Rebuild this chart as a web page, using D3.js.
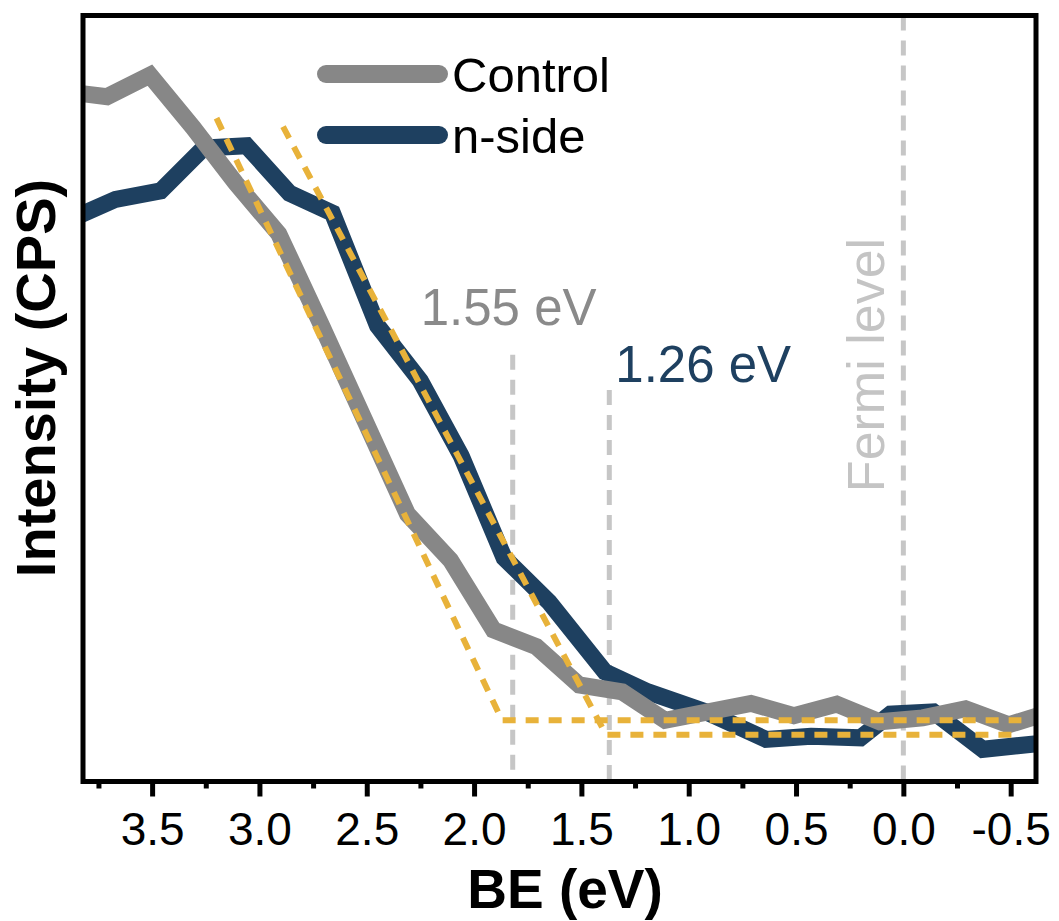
<!DOCTYPE html>
<html>
<head>
<meta charset="utf-8">
<script src="https://cdn.jsdelivr.net/npm/d3@7"></script>
<style>
  body { margin: 0; background: #ffffff; }
  svg { display: block; }
  text { font-family: "Liberation Sans", Arial, Helvetica, sans-serif; }
</style>
</head>
<body>
<svg id="chart" width="1059" height="921"></svg>
<script>
// UPS valence-band edge spectra (binding energy in eV, intensity in arbitrary CPS units)
const controlBE = [3.91, 3.71, 3.51, 3.31, 3.11, 2.91, 2.71, 2.51, 2.31, 2.11, 1.91, 1.71,
                   1.51, 1.31, 1.11, 0.91, 0.71, 0.51, 0.31, 0.11, -0.09, -0.29, -0.49, -0.69];
const controlCPS = [901, 894, 922, 854, 781, 715, 595, 472, 349, 289, 198, 176,
                    126, 117, 80, 91, 102, 86, 101, 78, 83, 95, 74, 91];

const nsideBE = [3.88, 3.67, 3.46, 3.26, 3.06, 2.86, 2.66, 2.45, 2.25, 2.06, 1.86, 1.65,
                 1.39, 1.19, 0.92, 0.64, 0.43, 0.20, 0.06, -0.14, -0.37, -0.61, -0.68];
const nsideCPS = [734, 760, 771, 827, 830, 768, 742, 595, 523, 425, 292, 234,
                  143, 117, 91, 55, 59, 57, 88, 91, 42, 49, 50];

// Linear fits of the leading edge and of the background
const fitControlBE = [3.20, 1.87, -0.55];
const fitControlCPS = [866, 80, 80];
const fitNsideBE = [2.89, 1.385, -0.51];
const fitNsideCPS = [855, 61, 61];

// Onset markers and their annotations
const onsetBE = [1.82, 1.37];
const onsetTopCPS = [557, 511];
const onsetLabels = ["1.55 eV", "1.26 eV"];
const fermiBE = 0;
const fermiLabel = "Fermi level";

// Axis ticks
const majorTicks = [3.5, 3.0, 2.5, 2.0, 1.5, 1.0, 0.5, 0.0, -0.5];
const majorTickLabels = ["3.5", "3.0", "2.5", "2.0", "1.5", "1.0", "0.5", "0.0", "-0.5"];
const minorTicks = [3.75, 3.25, 2.75, 2.25, 1.75, 1.25, 0.75, 0.25, -0.25];

const seriesNames = ["Control", "n-side"];
const seriesColors = ["#878787", "#1e4060"];
const fitColor = "#e8b23a";
const guideColor = "#c6c6c6";

const svg = d3.select("#chart");
const plot = { left: 83, top: 15.5, right: 1036, bottom: 781.5 };

const x = d3.scaleLinear().domain([3.822, -0.618]).range([plot.left, plot.right]);
const y = d3.scaleLinear().domain([0, 1000]).range([plot.bottom, plot.top]);

const zip = (a, b) => a.map((v, i) => [v, b[i]]);
const line = d3.line().x(d => x(d[0])).y(d => y(d[1]));

svg.append("defs").append("clipPath").attr("id", "plot-clip")
  .append("rect")
  .attr("x", plot.left).attr("y", plot.top)
  .attr("width", plot.right - plot.left).attr("height", plot.bottom - plot.top);

const inner = svg.append("g").attr("clip-path", "url(#plot-clip)");

// Vertical guides: onsets and Fermi level
inner.selectAll("line.onset")
  .data(onsetBE)
  .join("line")
  .attr("class", "onset")
  .attr("x1", d => x(d)).attr("x2", d => x(d))
  .attr("y1", (d, i) => y(onsetTopCPS[i])).attr("y2", y(0))
  .attr("stroke", guideColor).attr("stroke-width", 5)
  .attr("stroke-dasharray", "15,10");

inner.append("line")
  .attr("x1", x(fermiBE)).attr("x2", x(fermiBE))
  .attr("y1", y(1000)).attr("y2", y(0))
  .attr("stroke", guideColor).attr("stroke-width", 5)
  .attr("stroke-dasharray", "15,10");

// Spectra (n-side below, Control above)
const spectra = [zip(controlBE, controlCPS), zip(nsideBE, nsideCPS)];
[1, 0].forEach(i => {
  inner.append("path")
    .attr("d", line(spectra[i]))
    .attr("fill", "none")
    .attr("stroke", seriesColors[i])
    .attr("stroke-width", 17)
    .attr("stroke-linejoin", "miter")
    .attr("stroke-miterlimit", 4);
});

// Edge / background fits
[zip(fitControlBE, fitControlCPS), zip(fitNsideBE, fitNsideCPS)].forEach(pts => {
  inner.append("path")
    .attr("d", line(pts))
    .attr("fill", "none")
    .attr("stroke", fitColor)
    .attr("stroke-width", 6)
    .attr("stroke-dasharray", "13,10")
    .attr("stroke-linejoin", "miter");
});

// Onset annotations
svg.append("text")
  .attr("x", x(onsetBE[0]) - 92).attr("y", y(onsetTopCPS[0]) - 30)
  .attr("font-size", 51).attr("fill", "#8a8a8a")
  .text(onsetLabels[0]);
svg.append("text")
  .attr("x", x(onsetBE[1]) + 6).attr("y", y(onsetTopCPS[1]) - 8)
  .attr("font-size", 51).attr("fill", seriesColors[1])
  .text(onsetLabels[1]);

// Fermi level label
svg.append("text")
  .attr("transform", `translate(${x(fermiBE) - 19},365) rotate(-90)`)
  .attr("text-anchor", "middle")
  .attr("font-size", 52).attr("fill", "#c4c4c4")
  .text(fermiLabel);

// Legend
const legend = svg.append("g");
seriesNames.forEach((name, i) => {
  const ly = 74 + i * 61;
  legend.append("line")
    .attr("x1", 326).attr("x2", 439).attr("y1", ly).attr("y2", ly)
    .attr("stroke", seriesColors[i]).attr("stroke-width", 18)
    .attr("stroke-linecap", "round");
  legend.append("text")
    .attr("x", 452).attr("y", ly).attr("dy", "0.36em")
    .attr("font-size", 49).attr("fill", "#000")
    .text(name);
});

// Bottom axis: major and minor ticks
const axisMajor = d3.axisBottom(x)
  .tickValues(majorTicks)
  .tickFormat((d, i) => majorTickLabels[i])
  .tickSize(15)
  .tickPadding(15.5);
const axisMinor = d3.axisBottom(x)
  .tickValues(minorTicks)
  .tickFormat("")
  .tickSize(7);

const gMinor = svg.append("g").attr("transform", `translate(0,${plot.bottom})`).call(axisMinor);
const gMajor = svg.append("g").attr("transform", `translate(0,${plot.bottom})`).call(axisMajor);
[gMinor, gMajor].forEach(g => {
  g.select(".domain").remove();
  g.selectAll(".tick line").attr("stroke", "#000").attr("stroke-width", 5);
});
gMajor.selectAll(".tick text")
  .attr("font-size", 46)
  .attr("font-family", "\"Liberation Sans\", Arial, sans-serif")
  .attr("fill", "#000");

// Frame
svg.append("rect")
  .attr("x", plot.left).attr("y", plot.top)
  .attr("width", plot.right - plot.left).attr("height", plot.bottom - plot.top)
  .attr("fill", "none").attr("stroke", "#000").attr("stroke-width", 5);

// Axis titles
svg.append("text")
  .attr("x", 565).attr("y", 908)
  .attr("text-anchor", "middle")
  .attr("font-size", 55).attr("font-weight", "bold")
  .text("BE (eV)");
svg.append("text")
  .attr("transform", "translate(55,378) rotate(-90)")
  .attr("text-anchor", "middle")
  .attr("font-size", 56).attr("font-weight", "bold")
  .text("Intensity (CPS)");
</script>
</body>
</html>
